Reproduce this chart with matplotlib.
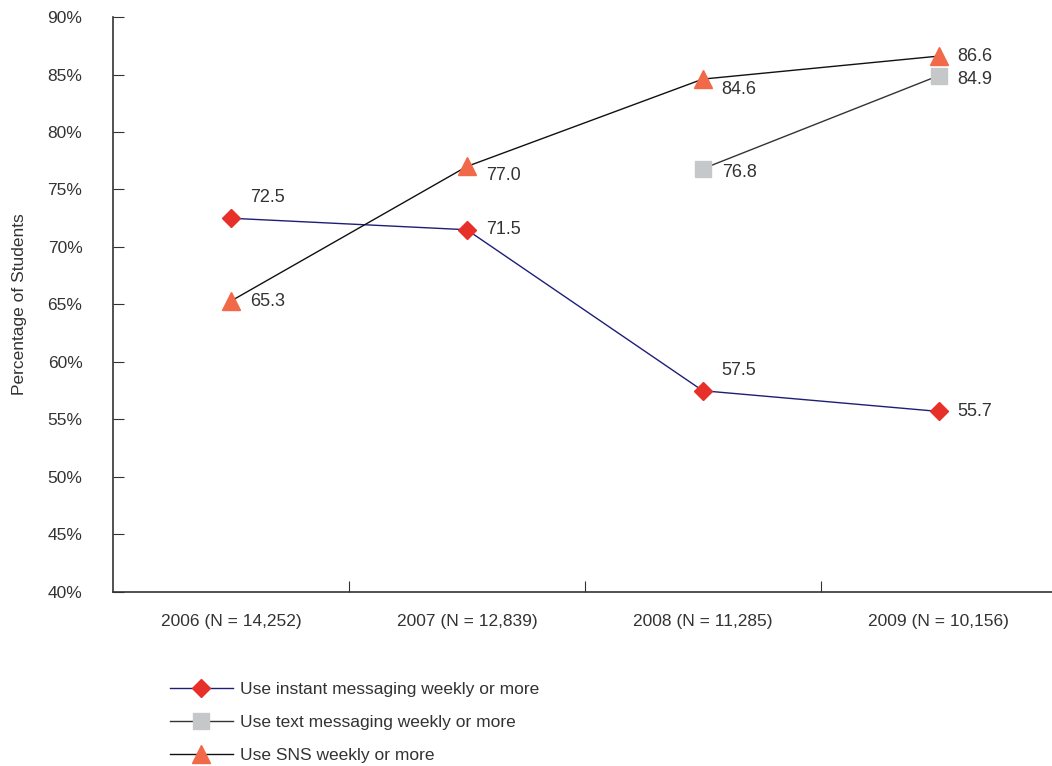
import numpy as np
import matplotlib.pyplot as plt

plt.rcParams['font.family'] = ['Liberation Sans Narrow', 'DejaVu Sans Condensed', 'Liberation Sans']

years = ["2006 (N = 14,252)", "2007 (N = 12,839)", "2008 (N = 11,285)", "2009 (N = 10,156)"]
im_vals = [72.5, 71.5, 57.5, 55.7]
text_x = [2, 3]
text_vals = [76.8, 84.9]
sns_vals = [65.3, 77.0, 84.6, 86.6]

txt = '#333333'
fs = 12.5
fig = plt.figure(figsize=(10.52, 7.66), dpi=100)
ax = fig.add_axes([0.1074, 0.2272, 0.897, 0.7506])

x = np.arange(len(years))
ax.plot(x, im_vals, color='#1e1e78', lw=1.0, marker='D', ms=9,
        mfc='#e8302a', mec='#e8302a', label='Use instant messaging weekly or more', zorder=3)
ax.plot(text_x, text_vals, color='#333333', lw=1.0, marker='s', ms=12,
        mfc='#c6c7c9', mec='#c6c7c9', label='Use text messaging weekly or more', zorder=3)
ax.plot(x, sns_vals, color='#111111', lw=1.0, marker='^', ms=13,
        mfc='#f2694a', mec='#f2694a', label='Use SNS weekly or more', zorder=4)

# value labels next to the markers
lab_kw = dict(fontsize=fs + 0.5, color=txt, va='center', ha='left')
im_off = [(0.08, 1.8), (0.08, 0), (0.08, 1.8), (0.08, 0)]
for i, v in enumerate(im_vals):
    ax.text(x[i] + im_off[i][0], v + im_off[i][1], f"{v:.1f}", **lab_kw)
sns_off = [(0.08, 0), (0.08, -0.8), (0.08, -0.9), (0.08, 0)]
for i, v in enumerate(sns_vals):
    ax.text(x[i] + sns_off[i][0], v + sns_off[i][1], f"{v:.1f}", **lab_kw)
for xi, v in zip(text_x, text_vals):
    ax.text(xi + 0.08, v - 0.3, f"{v:.1f}", **lab_kw)

ax.set_xlim(-0.5, 3.5)
ax.set_ylim(40, 90)
ax.set_yticks(np.arange(40, 91, 5))
ax.set_yticklabels([f"{v}%" for v in range(40, 91, 5)])
ax.set_xticks([0.5, 1.5, 2.5])
ax.set_xticklabels([])
ax.set_xticks(x, minor=True)
ax.set_xticklabels(years, minor=True)
ax.tick_params(axis='x', which='major', direction='in', length=8, color='#333333')
ax.tick_params(axis='x', which='minor', length=0, pad=16, labelsize=fs, labelcolor=txt)
ax.tick_params(axis='y', direction='in', length=8, pad=22, labelsize=fs, labelcolor=txt, color='#333333')

for s in ['top', 'right']:
    ax.spines[s].set_visible(False)
for s in ['left', 'bottom']:
    ax.spines[s].set_color('#333333')
    ax.spines[s].set_linewidth(1.2)

ax.set_ylabel("Percentage of Students", fontsize=fs, color=txt)
ax.yaxis.set_label_coords(-86 / 944, 0.5)

fig.legend(loc='upper left', bbox_to_anchor=(170 / 1052, 1 - 682 / 766), frameon=False,
           fontsize=fs, labelcolor=txt, handlelength=3.6, handletextpad=0.45,
           labelspacing=1.02, borderpad=0, borderaxespad=0)

fig.savefig('out.png', dpi=100)
